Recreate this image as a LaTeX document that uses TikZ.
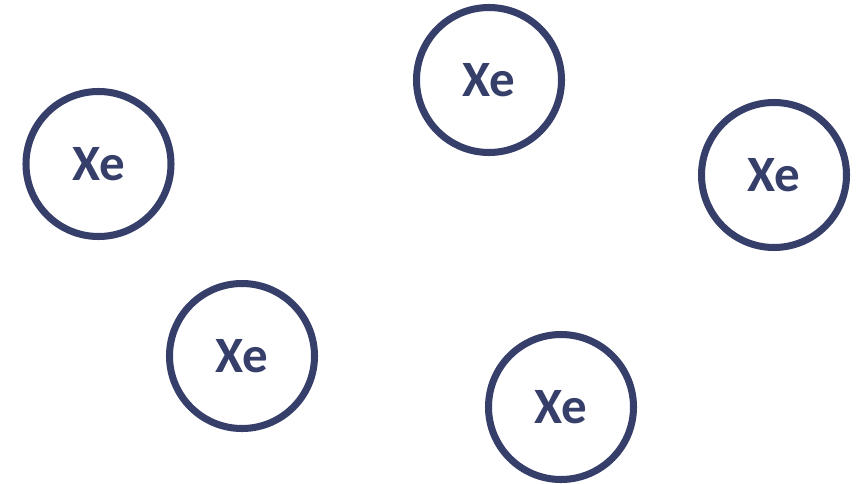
\documentclass[tikz,border=0pt]{standalone}
\usepackage{fontspec}
\setmainfont{Carlito}
\usepackage{tikz}
\definecolor{xenavy}{RGB}{54,63,106}

\begin{document}
\begin{tikzpicture}[atom/.style={draw=xenavy,line width=4pt,circle,minimum size=2.9cm,inner sep=0pt,text=xenavy,font=\fontsize{29}{30}\selectfont\bfseries}]
        \useasboundingbox (0,0) rectangle (17.12,9.66);
        \node[atom] (xe1) at (9.78,8.06) {Xe};
        \node[atom] (xe2) at (1.97,6.38) {Xe};
        \node[atom] (xe3) at (15.48,6.16) {Xe};
        \node[atom] (xe4) at (4.84,2.54) {Xe};
        \node[atom] (xe5) at (11.22,1.52) {Xe};
      \end{tikzpicture}
\end{document}
